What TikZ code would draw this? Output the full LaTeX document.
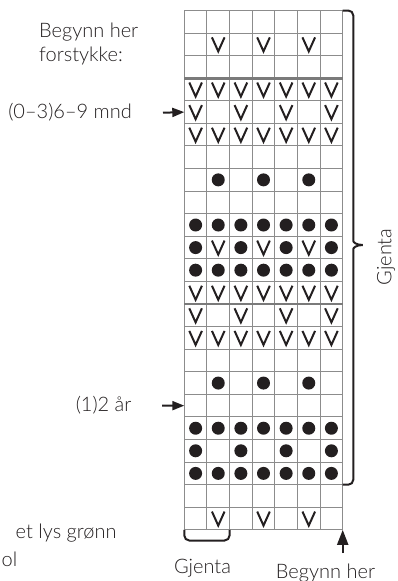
\documentclass[tikz,border=0pt]{standalone}
\usepackage{fontspec}
\IfFontExistsTF{Lato Light}{\setmainfont{Lato Light}}{\setmainfont{Lato}}
\usetikzlibrary{arrows.meta}
\definecolor{gridgray}{HTML}{8C8C8C}
\definecolor{sepgray}{HTML}{7A7A7A}
\definecolor{ink}{HTML}{231F20}
\begin{document}
\begin{tikzpicture}[x=1pt,y=-1pt,
  font=\fontsize{20}{23.4}\selectfont,
  lbl/.style={inner sep=0pt, text=ink},
  gridline/.style={draw=gridgray, line width=1pt},
  sepline/.style={draw=sepgray, line width=2.6pt},
  vsym/.style={draw=ink, line width=2pt, line join=miter},
  dotsym/.style={fill=ink},
  bracestyle/.style={draw=ink, line width=2pt, rounded corners=5pt},
  ptr/.style={draw=ink, line width=2pt, -{Triangle[length=12pt,width=9pt]}},
  ptrup/.style={draw=ink, line width=2pt, -{Triangle[length=15pt,width=11pt]}}]
\useasboundingbox (0,0) rectangle (398,581);
\def\X{184.3}\def\W{22.63}\def\Y{10.5}\def\H{22.58}
% grid
\foreach \c in {0,...,7}
  \draw[gridline] ({\X+\c*\W},\Y) -- ({\X+\c*\W},{\Y+23*\H});
\foreach \r in {0,...,23}
  \draw[gridline] (\X,{\Y+\r*\H}) -- ({\X+7*\W},{\Y+\r*\H});
\foreach \r in {3,13}
  \draw[sepline] (\X,{\Y+\r*\H}) -- ({\X+7*\W},{\Y+\r*\H});
% named grid points
\coordinate (g-ne) at ({\X+7*\W},\Y);
\coordinate (g-se) at ({\X+7*\W},{\Y+23*\H});
\coordinate (g-sw) at (\X,{\Y+23*\H});
\coordinate (g-r21) at ({\X+7*\W},{\Y+21*\H});
\coordinate (row5-w) at (\X,{\Y+4.5*\H});
\coordinate (row18-w) at (\X,{\Y+17.5*\H});
% V symbols
\foreach \r in {4,6,13,15} \foreach \c in {1,...,7}
  \draw[vsym] ({\X+(\c-0.5)*\W-6.3},{\Y+(\r-0.5)*\H-7}) -- ++(6.3,14) -- ++(6.3,-14);
\foreach \r in {5,14} \foreach \c in {1,3,5,7}
  \draw[vsym] ({\X+(\c-0.5)*\W-6.3},{\Y+(\r-0.5)*\H-7}) -- ++(6.3,14) -- ++(6.3,-14);
\foreach \r in {2,11,23} \foreach \c in {2,4,6}
  \draw[vsym] ({\X+(\c-0.5)*\W-6.3},{\Y+(\r-0.5)*\H-7}) -- ++(6.3,14) -- ++(6.3,-14);
% dots
\foreach \r in {10,12,19,21} \foreach \c in {1,...,7}
  \fill[dotsym] ({\X+(\c-0.5)*\W},{\Y+(\r-0.5)*\H}) circle[radius=6.5pt];
\foreach \r in {11,20} \foreach \c in {1,3,5,7}
  \fill[dotsym] ({\X+(\c-0.5)*\W},{\Y+(\r-0.5)*\H}) circle[radius=6.5pt];
\foreach \r in {8,17} \foreach \c in {2,4,6}
  \fill[dotsym] ({\X+(\c-0.5)*\W},{\Y+(\r-0.5)*\H}) circle[radius=6.5pt];
% right brace
\coordinate (brace-tip) at (362.7,245);
\draw[bracestyle] (g-ne) -- (353.3,\Y) -- (353.3,236)
  .. controls (353.3,242) and (356,245) .. (brace-tip);
\draw[bracestyle] (brace-tip) .. controls (356,245) and (353.3,248) .. (353.3,254)
  -- (353.3,{\Y+21*\H}) -- (g-r21);
% bottom bracket
\coordinate (g-c2b) at ({\X+2*\W},{\Y+23*\H});
\draw[bracestyle] (g-sw) -- (\X,540.5) -- ({\X+2*\W},540.5) -- (g-c2b);
% labels
\node[lbl, anchor=north west, align=left] (start-front) at (39,23) {Begynn her\\forstykke:};
\node[lbl, anchor=base east] (size-mnd) at (132,118.5) {(0–3)6–9 mnd};
\node[lbl, anchor=base east] (size-aar) at (131.7,411.7) {(1)2 år};
\node[lbl, rotate=90] (repeat-v) at (386,257) {Gjenta};
\node[lbl, anchor=base] (repeat-h) at (202.5,573) {Gjenta};
\node[lbl, anchor=base] (start-here) at (325.5,578) {Begynn her};
\node[lbl, anchor=base east] (legend1) at (116.7,538) {et lys grønn};
\node[lbl, anchor=base east] (legend2) at (17.5,566.7) {ol};
% arrows
\coordinate (mnd-tail) at (163,112.7);
\coordinate (aar-tail) at (162,405.65);
\coordinate (start-tail) at ({\X+7*\W},553);
\draw[ptr] (mnd-tail) -- (row5-w);
\draw[ptr] (aar-tail) -- (row18-w);
\draw[ptrup] (start-tail) -- (g-se);
\end{tikzpicture}
\end{document}
